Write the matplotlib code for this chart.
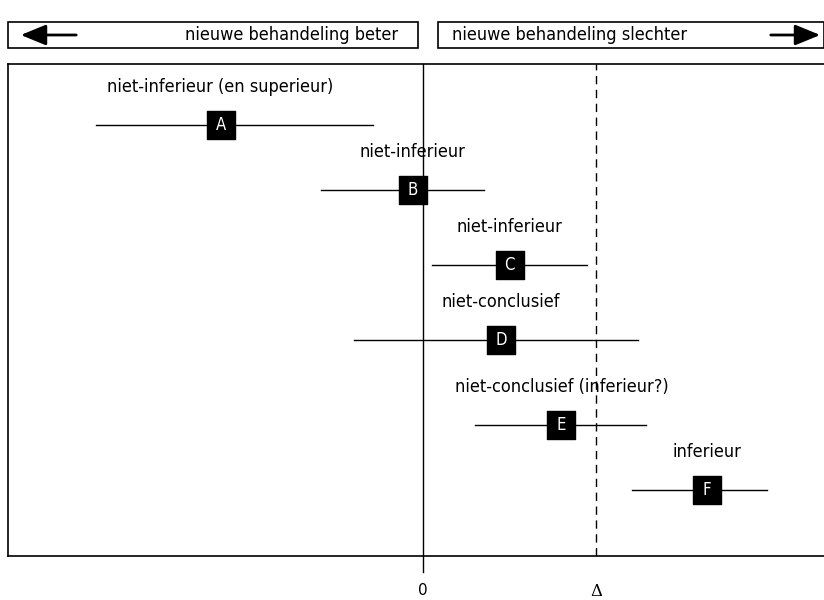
import matplotlib
matplotlib.use("Agg")
import matplotlib.pyplot as plt
from matplotlib.patches import Rectangle, FancyArrowPatch
from matplotlib.transforms import blended_transform_factory

plt.rcParams['font.family'] = ['DejaVu Sans']
plt.rcParams['font.stretch'] = 'condensed'

# studies A-F: betrouwbaarheidsinterval t.o.v. marge Delta (Delta = 1)
letters = ['A', 'B', 'C', 'D', 'E', 'F']
labels = ['niet-inferieur (en superieur)', 'niet-inferieur', 'niet-inferieur',
          'niet-conclusief', 'niet-conclusief (inferieur?)', 'inferieur']
schatting = [-1.17, -0.06, 0.50, 0.45, 0.80, 1.64]
ci_laag = [-1.89, -0.59, 0.05, -0.40, 0.30, 1.21]
ci_hoog = [-0.29, 0.35, 0.95, 1.24, 1.29, 1.99]
rij_y = [125, 190, 265, 340, 425, 490]
delta = 1.0

fig = plt.figure(figsize=(8.24, 6.0), dpi=100)
W, H = 824, 600

ax = fig.add_axes([8 / W, (H - 556) / H, (W - 8) / W, (556 - 64) / H])
ax.set_xlim(-2.399, 2.318)
ax.set_ylim(556, 64)
ax.set_xticks([])
ax.set_yticks([])
for s in ['left', 'top', 'bottom']:
    ax.spines[s].set_linewidth(1.2)
ax.spines['right'].set_visible(False)

ax.axvline(0, ymin=-0.033, ymax=1, color='black', lw=1, clip_on=False, zorder=1)
ax.axvline(delta, color='black', lw=1, ls=(0, (6, 4)), zorder=3)

for i in range(len(letters)):
    ax.plot([ci_laag[i], ci_hoog[i]], [rij_y[i], rij_y[i]], color='black', lw=1, zorder=2)
    ax.scatter([schatting[i]], [rij_y[i]], marker='s', s=410, color='black', zorder=4)
    ax.text(schatting[i], rij_y[i], letters[i], color='white', ha='center', va='center',
            fontsize=12, zorder=5)
    ax.text(schatting[i], rij_y[i] - 38, labels[i], ha='center', va='center', fontsize=13,
            zorder=5)

trans = blended_transform_factory(ax.transData, ax.transAxes)
ax.text(0, -0.07, '0', transform=trans, ha='center', va='center', fontsize=11,
        fontstretch='normal')
ax.text(delta, -0.072, 'Δ', transform=trans, ha='center', va='center', fontsize=12,
        family=['DejaVu Serif'], fontstretch='normal')

# kopvakken met pijlen
def px(x, y):
    return x / W, (H - y) / H

for x0, x1 in [(8, 418), (438, 824)]:
    fig.patches.append(Rectangle(px(x0, 48), (x1 - x0) / W, 26 / H, transform=fig.transFigure,
                                 fill=False, edgecolor='black', lw=1.2))

fig.text(*px(398, 35), 'nieuwe behandeling beter', ha='right', va='center', fontsize=13)
fig.text(*px(452, 35), 'nieuwe behandeling slechter', ha='left', va='center', fontsize=13)

for start, end in [((79, 35), (18, 35)), ((768, 35), (823, 35))]:
    fig.add_artist(FancyArrowPatch(px(*start), px(*end), transform=fig.transFigure,
                   arrowstyle='-|>,head_length=1.1,head_width=0.45', mutation_scale=14,
                   color='black', lw=2))

fig.savefig('out.png', dpi=100)
